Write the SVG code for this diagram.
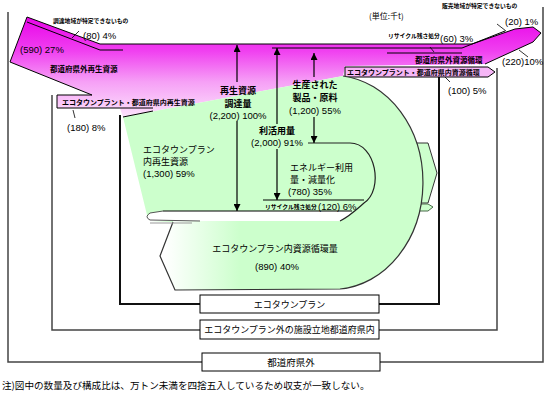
<svg xmlns="http://www.w3.org/2000/svg" width="550" height="400" viewBox="0 0 550 400">
<defs>
<linearGradient id="pk" gradientUnits="userSpaceOnUse" x1="0" y1="15" x2="0" y2="118">
<stop offset="0" stop-color="#E800E8"/>
<stop offset="0.35" stop-color="#F040F0"/>
<stop offset="0.65" stop-color="#F6A0F6"/>
<stop offset="1" stop-color="#FCE4FC"/>
</linearGradient>
<linearGradient id="gw" gradientUnits="userSpaceOnUse" x1="165" y1="0" x2="240" y2="0">
<stop offset="0" stop-color="#FFFFFF"/>
<stop offset="1" stop-color="#CCFFCC"/>
</linearGradient>
<marker id="ah" viewBox="0 0 10 10" refX="10" refY="5" markerWidth="7" markerHeight="7" markerUnits="userSpaceOnUse" orient="auto">
<path d="M0,0 L10,5 L0,10 Z" fill="#000"/>
</marker>
<style>
.fr{fill:none;stroke:#444;stroke-width:1.5}
.fi{fill:none;stroke:#111;stroke-width:2}
.ln{fill:none;stroke:#000;stroke-width:1}
.ld{fill:none;stroke:#000;stroke-width:0.8}
.ar{fill:none;stroke:#000;stroke-width:1.2;marker-end:url(#ah)}
.bx{fill:#fff;stroke:#000;stroke-width:1}
.jp{font-family:"Noto Sans CJK JP","Liberation Sans",sans-serif;font-size:9px;fill:#000}
.jb{font-family:"Noto Sans CJK JP","Liberation Sans",sans-serif;font-size:9px;font-weight:bold;fill:#000}
.js{font-family:"Noto Sans CJK JP","Liberation Sans",sans-serif;font-size:7px;font-weight:bold;fill:#000}
.jt{font-family:"Noto Sans CJK JP","Liberation Sans",sans-serif;font-size:5.8px;font-weight:bold;fill:#000}
.nm{font-family:"Liberation Sans",Arial,sans-serif;font-size:9.5px;fill:#000}
.c{text-anchor:middle}
</style>
</defs>

<g id="frames">
<path class="fr" d="M8,12 V362 H202 M380,362 H543 V7"/>
<path class="fr" d="M52,95 V330 H200 M379,330 H497 V68"/>
<path class="fi" d="M120,115 V304 H200 M379,304 H439 V77"/>
</g>

<g id="pink-flow">
<path d="M27,17 L100,44 L472,44 L515,29 L533,27 L541,33 L533,42 L485,64 L345,66 L343,76 L123,117 L120,108 L57,108 L57,95 L92,95 L10,62 Z" fill="url(#pk)"/>
<path class="ln" d="M10,62 L27,17 L100,44 L472,44 L515,29 L533,27 L541,33 L533,42 L485,64"/>
<path class="ln" d="M10,62 L92,95 M57,95 L92,95 M57,95 V108 H153"/>
<path class="ln" d="M27,22 L100,50 L123,50"/>
<path class="ln" d="M272,48 L462,48 L505,31"/>
<path class="ln" d="M387,53 L462,53"/>
<path d="M345,67 L488,67 L495,72 L488,77 L345,77 Z" fill="#F6B6F6" stroke="#000" stroke-width="1"/>
</g>

<g id="green-flow">
<path d="M400,143 L428,143 L437,173 L428,203 L400,203 Z" fill="#CCFFCC" stroke="#333" stroke-width="1"/>
<path d="M400,204 L428,204 L433,207 L428,211 L400,211 Z" fill="#CCFFCC" stroke="#4A6A4A" stroke-width="1"/>
<path d="M123,117 L343,76 A90,107 0 0 1 340,289 L175,290 L160,256 L173,222 L150,221 L147,215 Z" fill="#CCFFCC"/>
<path d="M173,222 L160,256 L175,290 L245,290 L245,221 L173,221 Z" fill="url(#gw)"/>
<path d="M343,76 A90,107 0 0 1 340,289 L175,290 L160,256 L173,222" fill="none" stroke="#333" stroke-width="1.2"/>
<path class="ln" d="M123,117 L153,111"/>
<path d="M150,213 L163,211 L352,211 C350,215 346,218 340,221 L150,221 Q145,217 150,213 Z" fill="#fff"/>
<path class="ln" d="M163,211 L352,211"/>
<path d="M163,211 L150,213 Q144,217 150,220 L200,221" fill="none" stroke="#555" stroke-width="1"/>
<path d="M150,223 L192,223" stroke="#999" stroke-width="1"/>
<path d="M308,143 L350,143 C376,143 384,190 364,203 C356,210 350,216 340,221" fill="none" stroke="#222" stroke-width="1.2"/>
<path class="ln" d="M263,200 L364,200"/>
</g>

<g id="connectors">
<path class="ar" d="M237,82 V45"/>
<path class="ar" d="M237,121 V211"/>
<path class="ar" d="M277,124 V48"/>
<path class="ar" d="M277,149 V200"/>
<path class="ar" d="M314,77 V53"/>
<path class="ar" d="M314,117 V143"/>
<path class="ld" d="M72,38 L79,31"/>
<path class="ld" d="M73,110 L75,118"/>
<path class="ld" d="M497,24 L506,31"/>
<path class="ld" d="M430,47 L434,52"/>
<path class="ld" d="M519,50 L528,57"/>
<path class="ld" d="M445,77 L450,82"/>
</g>

<g id="labels">
<text class="jt" x="53" y="23">調達地域が特定できないもの</text>
<text class="nm" x="83" y="39">(80)  4%</text>
<text class="nm" x="20" y="53">(590)  27%</text>
<text class="js" x="50" y="72" style="font-size:7.5px">都道府県外再生資源</text>
<text class="js" x="62" y="105">エコタウンプラント・都道府県内再生資源</text>
<text class="nm" x="67" y="131">(180) 8%</text>
<text class="jp" x="369" y="19" style="font-size:8px">(単位:千t)</text>
<text class="jt" x="442" y="8">販売地域が特定できないもの</text>
<text class="nm" x="505" y="25">(20) 1%</text>
<text class="jt" x="388" y="38">リサイクル残さ処分</text>
<text class="nm" x="440" y="42">(60) 3%</text>
<text class="js" x="415" y="63" style="font-size:7.5px">都道府県外資源循環</text>
<text class="nm" x="502" y="65">(220)10%</text>
<text class="js" x="347" y="75">エコタウンプラント・都道府県内資源循環</text>
<text class="nm" x="448" y="94">(100) 5%</text>
<text class="jb c" x="238" y="93.5">再生資源</text>
<text class="jb c" x="238" y="106.5">調達量</text>
<text class="nm c" x="238" y="119">(2,200) 100%</text>
<text class="jb c" x="315" y="88">生産された</text>
<text class="jb c" x="315" y="101">製品・原料</text>
<text class="nm c" x="315" y="114">(1,200) 55%</text>
<text class="jb c" x="277" y="134">利活用量</text>
<text class="nm c" x="277" y="146">(2,000) 91%</text>
<text class="jp" x="143" y="153">エコタウンプラン</text>
<text class="jp" x="143" y="165">内再生資源</text>
<text class="nm" x="143" y="177">(1,300)  59%</text>
<text class="jp" x="290" y="171">エネルギー利用</text>
<text class="jp" x="290" y="183">量・減量化</text>
<text class="nm" x="288" y="195">(780)  35%</text>
<text class="jt" x="265" y="209">リサイクル残さ処分</text>
<text class="nm" x="318" y="210">(120) 6%</text>
<text class="jp c" x="275" y="252">エコタウンプラン内資源循環量</text>
<text class="nm c" x="277" y="270">(890)  40%</text>
</g>

<g id="box-ecotown">
<rect class="bx" x="200" y="295" width="179" height="18"/>
<text class="jp c" x="289.5" y="307.5">エコタウンプラン</text>
</g>
<g id="box-pref-in">
<rect class="bx" x="200" y="320" width="179" height="19"/>
<text class="jp c" x="289.5" y="333">エコタウンプラン外の施設立地都道府県内</text>
</g>
<g id="box-pref-out">
<rect class="bx" x="202" y="353" width="178" height="18"/>
<text class="jp c" x="291" y="366" style="font-size:9.5px">都道府県外</text>
</g>

<text class="jp" x="2" y="389" style="font-size:9.6px">注)図中の数量及び構成比は、万トン未満を四捨五入しているため収支が一致しない。</text>
</svg>
